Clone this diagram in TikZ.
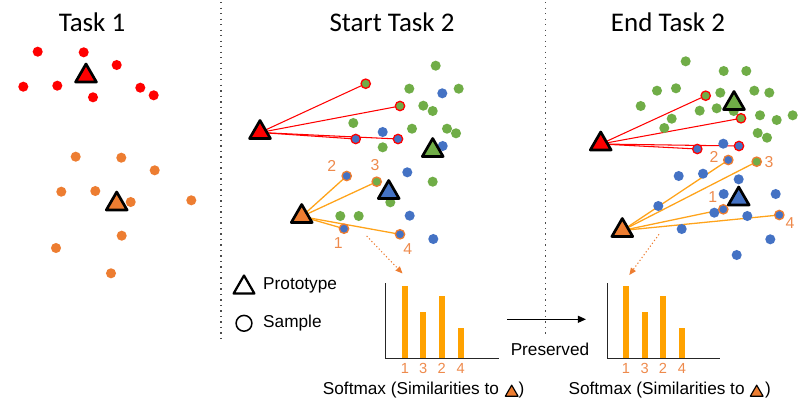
\documentclass[tikz,border=0pt]{standalone}
\usepackage{fontspec}
\setmainfont{Liberation Sans}
\newfontfamily\titlefont{Carlito}
\usetikzlibrary{shapes.geometric,arrows.meta,backgrounds}
\definecolor{cred}{HTML}{FF0000}
\definecolor{corange}{HTML}{ED7D31}
\definecolor{cgreen}{HTML}{70AD47}
\definecolor{cblue}{HTML}{4472C4}
\definecolor{camber}{HTML}{FFA31A}
\definecolor{cbar}{HTML}{FFA200}
\definecolor{cnum}{HTML}{EE8A4C}
\definecolor{caxis}{HTML}{262626}
\begin{document}
\begin{tikzpicture}[x=0.03cm,y=-0.03cm,
  dotbase/.style={circle, inner sep=0pt, minimum size=8.6pt},
  rdot/.style={dotbase, fill=cred},
  odot/.style={dotbase, fill=corange},
  gdot/.style={dotbase, fill=cgreen},
  bdot/.style={dotbase, fill=cblue},
  samp/.style={circle, inner sep=0pt, minimum size=8pt, line width=1.1pt},
  rsamp/.style={samp, draw=cred},
  osamp/.style={samp, draw=corange},
  proto/.style={regular polygon, regular polygon sides=3, inner sep=0pt,
    minimum size=20.5pt, draw=black, line width=2.3pt, line join=round},
  smallproto/.style={regular polygon, regular polygon sides=3, inner sep=0pt,
    minimum size=12.5pt, draw=black, line width=1pt, line join=round, fill=corange},
  titletext/.style={font=\titlefont\fontsize{23}{27}\selectfont},
  numtext/.style={text=cnum, font=\fontsize{13.5}{15}\selectfont, inner sep=0pt},
  axnum/.style={text=cnum, font=\fontsize{12.5}{14}\selectfont, inner sep=0pt},
  bodytext/.style={font=\fontsize{14.7}{17}\selectfont, inner sep=0pt},
  redline/.style={draw=cred, line width=0.9pt},
  ambline/.style={draw=camber, line width=1.1pt},
  sepline/.style={draw=black!70, line width=1.2pt, dash pattern=on 1.2pt off 3.5pt},
  hintarrow/.style={draw=corange, line width=0.9pt, dash pattern=on 1pt off 2pt,
    -{Triangle[length=6pt,width=5pt]}},
  axisline/.style={draw=caxis, line width=1.1pt},
  barfill/.style={fill=cbar}
]
\useasboundingbox (0,0) rectangle (800,417);

% separators
\draw[sepline] (221,2) -- (221,340);
\draw[sepline] (545.5,2) -- (545.5,337);

% titles
\node[titletext] (t1) at (92,22) {Task 1};
\node[titletext] (t2) at (392,22) {Start Task 2};
\node[titletext] (t3) at (668,22) {End Task 2};

% ---------- Task 1 ----------
\foreach \x/\y [count=\i] in {37.7/51.7,83.7/52.3,116.7/65,23.3/86.7,57.3/85.7,93/97.3,140.3/87.7,153.7/95.3}
  \node[rdot] (ar\i) at (\x,\y) {};
\foreach \x/\y [count=\i] in {75.7/156.7,121.3/157.7,154.7/170.3,61.3/191.7,95.3/191,130.7/202,191.3/200.3,121.7/235.7,56/248,111/273.3}
  \node[odot] (ao\i) at (\x,\y) {};
\node[proto, fill=cred] (aR) at (86,76) {};
\node[proto, fill=corange] (aO) at (116.7,204) {};

% ---------- Start Task 2 ----------
\foreach \x/\y [count=\i] in {435.7/65.7,409.3/88.7,458.7/88.7,423.3/105.7,432.7/111,353.3/123,412/128.7,447/128.7,456/133.3,382.7/147.3,432.7/181.7,390.3/202.3,340.3/216,358.7/216}
  \node[gdot] (bg\i) at (\x,\y) {};
\foreach \x/\y [count=\i] in {442.3/93.3,382.7/132,442.7/146,407.3/172.3,409.7/215.7,433.3/239}
  \node[bdot] (bb\i) at (\x,\y) {};
\node[rsamp, fill=cgreen] (sa1) at (365.7,83.7) {};
\node[rsamp, fill=cgreen] (sa2) at (400,106) {};
\node[rsamp, fill=cblue] (sa3) at (355.7,139) {};
\node[rsamp, fill=cblue] (sa4) at (398,139) {};
\node[osamp, fill=cblue] (so1) at (344,228.7) {};
\node[osamp, fill=cblue] (so2) at (346.7,176) {};
\node[osamp, fill=cgreen] (so3) at (376.7,181.7) {};
\node[osamp, fill=cblue] (so4) at (400,234.3) {};
\node[proto, fill=cred] (bR) at (260,132.5) {};
\node[proto, fill=corange] (bO) at (301.7,216.5) {};
\node[proto, fill=cgreen] (bG) at (432.7,150.5) {};
\node[proto, fill=cblue] (bB) at (388.7,192.5) {};
\node[numtext] (n2a) at (331.7,166) {2};
\node[numtext] (n3a) at (375,165.3) {3};
\node[numtext] (n1a) at (338.3,243.3) {1};
\node[numtext] (n4a) at (407.7,249.3) {4};

% ---------- End Task 2 ----------
\foreach \x/\y [count=\i] in {685.7/61.3,723.7/71,746.3/71,657/90.7,676/88.3,720.3/92.7,754.3/90.7,769.3/92.7,640.7/106,699.7/110.7,716.7/108.3,671.7/118.7,664.3/128,760/115.3,776.7/120,792.7/115.3,757.7/133,767/137.7,733.7/111}
  \node[gdot] (cg\i) at (\x,\y) {};
\foreach \x/\y [count=\i] in {723.3/143.7,678.7/176,703/173.7,738.7/179.3,723.7/194,775.7/194,658.3/206,714.3/212.7,747.3/216,681.7/229,770.3/239.3,736.7/255}
  \node[bdot] (cb\i) at (\x,\y) {};
\node[rsamp, fill=cgreen] (ea1) at (705.7,95.7) {};
\node[rsamp, fill=cgreen] (ea2) at (741,118.3) {};
\node[rsamp, fill=cblue] (ea3) at (697.3,149) {};
\node[rsamp, fill=cblue] (ea4) at (739,146) {};
\node[osamp, fill=cblue] (eo1) at (723.3,209.3) {};
\node[osamp, fill=cblue] (eo2) at (728.3,160) {};
\node[osamp, fill=cgreen] (eo3) at (756.7,161.7) {};
\node[osamp, fill=cblue] (eo4) at (779.3,215) {};
\node[proto, fill=cred] (cR) at (600.7,144) {};
\node[proto, fill=corange] (cO) at (622.3,230.5) {};
\node[proto, fill=cgreen] (cG) at (734,103.5) {};
\node[proto, fill=cblue] (cB) at (738.7,199) {};
\node[numtext] (n2b) at (714,157.3) {2};
\node[numtext] (n3b) at (769,161.7) {3};
\node[numtext] (n1b) at (712.7,197.3) {1};
\node[numtext] (n4b) at (790,223.3) {4};

% connectors (behind)
\begin{pgfonlayer}{background}
\foreach \s in {sa1,sa2,sa3,sa4} \draw[redline] (bR.center) -- (\s.center);
\foreach \s in {so1,so2,so3,so4} \draw[ambline] (bO.center) -- (\s.center);
\foreach \s in {ea1,ea2,ea3,ea4} \draw[redline] (cR.center) -- (\s.center);
\foreach \s in {eo1,eo2,eo3,eo4} \draw[ambline] (cO.center) -- (\s.center);
\end{pgfonlayer}

% legend
\node[regular polygon, regular polygon sides=3, inner sep=0pt, minimum size=20.5pt,
  draw=black, line width=1.9pt, line join=round, fill=white] (lgT) at (244,287.5) {};
\node[bodytext, anchor=west] (lgTt) at (263,285.3) {Prototype};
\node[circle, draw=black, line width=1.3pt, inner sep=0pt, minimum size=13.5pt] (lgC) at (244,323.3) {};
\node[bodytext, anchor=west] (lgCt) at (263,323.3) {Sample};

% chart 1
\coordinate (c1o) at (385.7,358.7);
\coordinate (c1t) at (385.7,283.3);
\coordinate (c1r) at (498.7,358.7);
\foreach \x/\y in {405/286,423.3/311.7,441.7/295.7,460.7/328}
  \fill[barfill] (\x-3,358.7) rectangle (\x+3,\y);
\draw[axisline] (c1t) -- (c1o) -- (c1r);
\foreach \x/\l [count=\i] in {405/1,423.3/3,441.7/2,460.7/4}
  \node[axnum] (k1\i) at (\x,368.3) {\l};
\node[bodytext, anchor=west] (sm1) at (322.7,390) {Softmax (Similarities to};
\node[smallproto] (sm1t) at (511.7,392.5) {};
\node[bodytext] (sm1p) at (521.5,390) {)};

% chart 2
\coordinate (c2o) at (607.3,358.7);
\coordinate (c2t) at (607.3,283.3);
\coordinate (c2r) at (720,358.7);
\foreach \x/\y in {626/286,644.7/311.7,663/295.7,682/328}
  \fill[barfill] (\x-3,358.7) rectangle (\x+3,\y);
\draw[axisline] (c2t) -- (c2o) -- (c2r);
\foreach \x/\l [count=\i] in {626/1,644.7/3,663/2,682/4}
  \node[axnum] (k2\i) at (\x,368.3) {\l};
\node[bodytext, anchor=west] (sm2) at (568.3,390) {Softmax (Similarities to};
\node[smallproto] (sm2t) at (756.7,392.5) {};
\node[bodytext] (sm2p) at (768,390) {)};

% hint arrows
\coordinate (h1a) at (366.7,236);
\coordinate (h1b) at (402.5,273.5);
\draw[hintarrow] (h1a) -- (h1b);
\coordinate (h2a) at (659,234.3);
\coordinate (h2b) at (629.3,275);
\draw[hintarrow] (h2a) -- (h2b);

% preserved arrow
\coordinate (pa) at (507.3,319.3);
\coordinate (pb) at (586,319.3);
\draw[line width=1.1pt, -{Triangle[length=7pt,width=6pt]}] (pa) -- (pb);
\node[bodytext] (pres) at (550,349.3) {Preserved};
\end{tikzpicture}
\end{document}
